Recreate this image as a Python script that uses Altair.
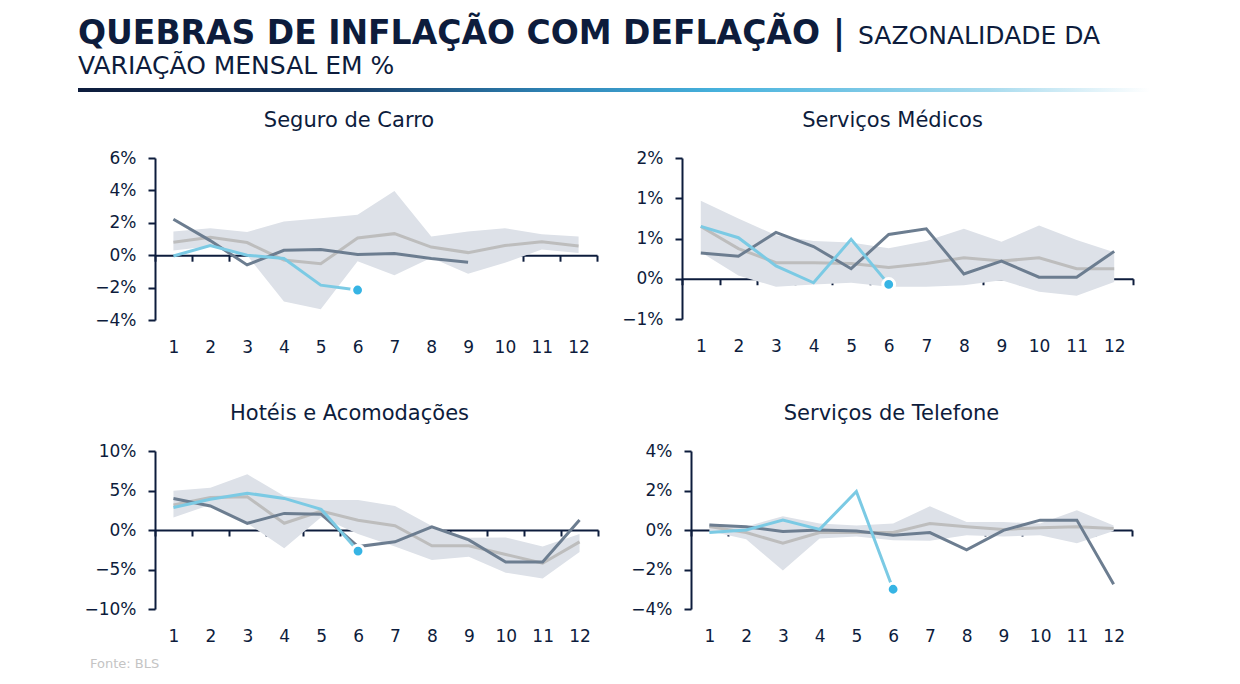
import altair as alt
import pandas as pd

# ---------------- data ----------------
MESES = list(range(1, 13))

# Seguro de Carro
carro_anterior = [2.22, 0.9, -0.6, 0.3, 0.35, 0.05, 0.1, -0.2, -0.43]
carro_atual = [-0.05, 0.6, 0.0, -0.2, -1.85, -2.15]
carro_media = [0.8, 1.1, 0.78, -0.3, -0.53, 1.06, 1.33, 0.5, 0.16, 0.6, 0.83, 0.57]
carro_max = [1.47, 1.67, 1.43, 2.08, 2.28, 2.49, 3.96, 1.16, 1.47, 1.67, 1.3, 1.16]
carro_min = [0.29, 0.55, 0.0, -2.86, -3.33, -0.37, -1.24, -0.16, -1.14, -0.47, 0.35, 0.14]

# Serviços Médicos
med_anterior = [0.32, 0.28, 0.575, 0.40, 0.125, 0.55, 0.62, 0.06, 0.22, 0.02, 0.02, 0.34]
med_atual = [0.65, 0.51, 0.16, -0.05, 0.49, -0.07]
med_media = [0.65, 0.375, 0.2, 0.2, 0.19, 0.14, 0.19, 0.26, 0.22, 0.26, 0.125, 0.125]
med_max = [0.97, 0.75, 0.54, 0.47, 0.45, 0.38, 0.47, 0.62, 0.46, 0.66, 0.48, 0.33]
med_min = [0.33, 0.04, -0.10, -0.07, -0.05, -0.1, -0.1, -0.08, -0.02, -0.16, -0.21, -0.04]

# Hotéis e Acomodações
hot_anterior = [3.98, 3.05, 0.85, 2.1, 2.0, -2.1, -1.5, 0.4, -1.25, -4.05, -4.05, 1.27]
hot_atual = [2.84, 3.9, 4.66, 4.0, 2.63, -2.67]
hot_media = [3.18, 4.1, 4.2, 0.85, 2.4, 1.23, 0.55, -2.0, -2.0, -3.1, -4.2, -1.5]
hot_max = [4.96, 5.35, 7.05, 4.3, 3.8, 3.8, 3.05, 0.5, -0.97, -0.95, -2.1, -0.5]
hot_min = [1.57, 3.2, 0.85, -2.3, 1.6, -0.5, -2.1, -3.8, -3.4, -5.4, -6.15, -2.8]

# Serviços de Telefone
tel_anterior = [0.25, 0.17, -0.08, 0.0, -0.05, -0.27, -0.13, -1.0, -0.02, 0.5, 0.5, -2.75]
tel_atual = [-0.13, 0.0, 0.5, 0.03, 1.95, -3.0]
tel_media = [0.17, -0.13, -0.67, -0.13, -0.13, -0.13, 0.33, 0.17, 0.03, 0.12, 0.17, 0.08]
tel_max = [0.33, 0.17, 0.7, 0.33, 0.23, 0.33, 1.2, 0.4, 0.4, 0.33, 1.0, 0.23]
tel_min = [-0.05, -0.47, -2.05, -0.43, -0.33, -0.52, -0.55, -0.27, -0.33, -0.27, -0.67, -0.05]

TITULO = "QUEBRAS DE INFLAÇÃO COM DEFLAÇÃO"
SUB1 = "SAZONALIDADE DA"
SUB2 = "VARIAÇÃO MENSAL EM %"
FONTE = "Fonte: BLS"

# ---------------- style ----------------
FONT = "DejaVu Sans"
NAVY = "#0d1c3c"
DARK = "#6c7d90"
LIGHT = "#7bcae4"
DOT = "#36b4e4"
MEAN = "#bdbdbd"
BAND = "#dde1e8"
LEFT_EXT = 77

INT_LABEL = "(datum.value < 0 ? '\u2212' + round(-datum.value) : '' + round(datum.value)) + '%'"


def panel(title, anterior, atual, media, lo, hi, ymin, ymax, yvals, W, H, minext, tdx,
          footer=False):
    below = H * (0 - ymin) / (ymax - ymin)
    xaxis = alt.Axis(
        title=None, labelAngle=0, grid=False, offset=-below,
        domain=True, domainColor=NAVY, domainWidth=2,
        ticks=True, tickBand="extent", tickSize=6, tickWidth=2, tickColor=NAVY,
        labelPadding=below + 19 - 6, labelFont=FONT, labelFontSize=17, labelColor=NAVY,
    )
    yaxis = alt.Axis(
        title=None, grid=False, values=yvals, labelExpr=INT_LABEL,
        domain=True, domainColor=NAVY, domainWidth=2,
        ticks=True, tickSize=7, tickWidth=2, tickColor=NAVY,
        labelPadding=12, labelFont=FONT, labelFontSize=17, labelColor=NAVY,
        minExtent=minext,
    )
    xs = alt.Scale(type="band", paddingInner=0, paddingOuter=0)
    ys = alt.Scale(domain=[ymin, ymax], nice=False, zero=False)

    def X():
        return alt.X("mes:O", bandPosition=0.5, scale=xs, axis=xaxis)

    band_df = pd.DataFrame({"mes": MESES, "min": lo, "max": hi})
    media_df = pd.DataFrame({"mes": MESES, "v": media})
    ant_df = pd.DataFrame({"mes": MESES[:len(anterior)], "v": anterior})
    atu_df = pd.DataFrame({"mes": MESES[:len(atual)], "v": atual})
    dot_df = atu_df.tail(1)

    band = alt.Chart(band_df).mark_area(color=BAND, opacity=1).encode(
        x=X(), y=alt.Y("min:Q", scale=ys, axis=yaxis), y2="max:Q")
    l_media = alt.Chart(media_df).mark_line(color=MEAN, strokeWidth=3).encode(
        x=X(), y=alt.Y("v:Q", scale=ys, axis=yaxis))
    l_ant = alt.Chart(ant_df).mark_line(color=DARK, strokeWidth=3).encode(
        x=X(), y=alt.Y("v:Q", scale=ys, axis=yaxis))
    l_atu = alt.Chart(atu_df).mark_line(color=LIGHT, strokeWidth=3).encode(
        x=X(), y=alt.Y("v:Q", scale=ys, axis=yaxis))
    dot = alt.Chart(dot_df).mark_circle(color=DOT, opacity=1, size=140, stroke="white",
                                        strokeWidth=3).encode(
        x=X(), y=alt.Y("v:Q", scale=ys, axis=yaxis))
    layers = [band, l_media, l_ant, l_atu, dot]
    if footer:
        ft = alt.Chart(pd.DataFrame({"t": [FONTE]})).mark_text(
            align="left", baseline="middle", font=FONT, fontSize=13, color="#c4c4c4"
        ).encode(x=alt.value(-65), y=alt.value(H + 55), text="t:N")
        layers.append(ft)
    return alt.layer(*layers).properties(
        width=W, height=H,
        title=alt.TitleParams(title, font=FONT, fontSize=21, fontWeight="normal",
                              color=NAVY, anchor="middle", offset=18, dx=tdx),
    )


p1 = panel("Seguro de Carro", carro_anterior, carro_atual, carro_media, carro_min, carro_max,
           -4, 6, [-4, -2, 0, 2, 4, 6], 442, 162, LEFT_EXT, -27)
p2 = panel("Serviços Médicos", med_anterior, med_atual, med_media, med_min, med_max,
           -0.5, 1.5, [-0.5, 0, 0.5, 1.0, 1.5], 451, 161, 50, -15)
p3 = panel("Hotéis e Acomodações", hot_anterior, hot_atual, hot_media, hot_min, hot_max,
           -10, 10, [-10, -5, 0, 5, 10], 443, 158, LEFT_EXT, -27, footer=True)
p4 = panel("Serviços de Telefone", tel_anterior, tel_atual, tel_media, tel_min, tel_max,
           -4, 4, [-4, -2, 0, 2, 4], 441, 158, 59, -20)

# ---------------- header ----------------
hdf = pd.DataFrame({"a": [0]})
grad = alt.Gradient(
    gradient="linear", x1=0, x2=1, y1=0, y2=0,
    stops=[
        alt.GradientStop(color="#0d1c3c", offset=0),
        alt.GradientStop(color="#173a63", offset=0.25),
        alt.GradientStop(color="#2f86b8", offset=0.45),
        alt.GradientStop(color="#47b2dd", offset=0.6),
        alt.GradientStop(color="#a8dbee", offset=0.85),
        alt.GradientStop(color="#ffffff", offset=1),
    ],
)
HX = -LEFT_EXT
h_bold = alt.Chart(hdf).mark_text(align="left", baseline="alphabetic", font=FONT, fontSize=33,
                                  fontWeight="bold", color=NAVY).encode(
    x=alt.value(HX), y=alt.value(36), text=alt.value(TITULO))
h_bar = alt.Chart(hdf).mark_text(align="left", baseline="alphabetic", font=FONT, fontSize=33,
                                 fontWeight="bold", color=NAVY).encode(
    x=alt.value(HX + 755), y=alt.value(36), text=alt.value("|"))
h_sub1 = alt.Chart(hdf).mark_text(align="left", baseline="alphabetic", font=FONT, fontSize=25,
                                  fontWeight="normal", color=NAVY).encode(
    x=alt.value(HX + 780), y=alt.value(36), text=alt.value(SUB1))
h_sub2 = alt.Chart(hdf).mark_text(align="left", baseline="alphabetic", font=FONT, fontSize=25,
                                  fontWeight="normal", color=NAVY).encode(
    x=alt.value(HX), y=alt.value(66), text=alt.value(SUB2))
h_line = alt.Chart(hdf).mark_rect(fill=grad).encode(
    x=alt.value(HX), x2=alt.value(HX + 1072), y=alt.value(80), y2=alt.value(84))
header = alt.layer(h_bold, h_bar, h_sub1, h_sub2, h_line).properties(width=990, height=84)

row1 = alt.hconcat(p1, p2, spacing=23)
row2 = alt.hconcat(p3, p4, spacing=31)
body = alt.vconcat(row1, row2, spacing=48)

chart = alt.vconcat(header, body, spacing=18).properties(
    padding={"left": 70, "top": 0, "right": 5, "bottom": 5}
).configure_view(stroke=None)

chart.save("out.html", embed_options={"renderer": "svg", "actions": False})
